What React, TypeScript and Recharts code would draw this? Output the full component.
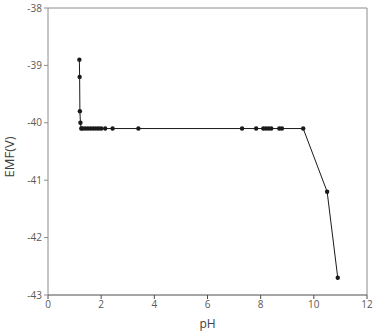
import { Line, LineChart, ReferenceLine, XAxis, YAxis } from "recharts";

// pH readings and the measured EMF at each one
const phValues = [
  1.18, 1.19, 1.2, 1.22, 1.25, 1.3, 1.4, 1.5, 1.6, 1.7, 1.8, 1.9, 2.0, 2.15, 2.43,
  3.4, 7.3, 7.83, 8.1, 8.2, 8.3, 8.4, 8.7, 8.8, 9.6, 10.5, 10.9,
];
const emfValues = [
  -38.9, -39.2, -39.8, -40.0, -40.1, -40.1, -40.1, -40.1, -40.1, -40.1, -40.1, -40.1,
  -40.1, -40.1, -40.1, -40.1, -40.1, -40.1, -40.1, -40.1, -40.1, -40.1, -40.1, -40.1,
  -40.1, -41.2, -42.7,
];
const xTicks = [0, 2, 4, 6, 8, 10, 12];
const yTicks = [-43, -42, -41, -40, -39, -38];

const rows = phValues.map((ph, i) => ({ ph, emf: emfValues[i] }));

const axisColor = "#8c8c8c";
const tickStyle = { fill: "#595959", fontSize: 10, fontFamily: "Open Sans" };

export default function App() {
  return (
    <div style={{ position: "absolute", left: 0, top: 0, background: "#fff" }}>
      <LineChart
        width={379}
        height={332}
        data={rows}
        margin={{ top: 8, right: 12, bottom: 4, left: 18 }}
      >
        <XAxis
          dataKey="ph"
          type="number"
          domain={[0, 12]}
          ticks={xTicks}
          stroke="#4d4d4d"
          tick={tickStyle}
          tickSize={4}
          height={33}
          label={{
            value: "pH",
            position: "insideBottom",
            offset: 0,
            fill: "#404040",
            fontSize: 12,
            fontFamily: "Open Sans",
          }}
        />
        <YAxis
          type="number"
          domain={[-43, -38]}
          ticks={yTicks}
          stroke={axisColor}
          tick={tickStyle}
          tickSize={4}
          width={30}
          label={{
            value: "EMF(V)",
            angle: -90,
            position: "insideLeft",
            offset: -9,
            dy: 26,
            fill: "#404040",
            fontSize: 13,
            fontFamily: "Open Sans",
          }}
        />
        <ReferenceLine y={-38} stroke={axisColor} />
        <ReferenceLine x={12} stroke={axisColor} />
        <Line
          dataKey="emf"
          type="linear"
          stroke="#1a1a1a"
          strokeWidth={1}
          dot={{ r: 2.2, fill: "#1a1a1a", stroke: "none" }}
          isAnimationActive={false}
        />
      </LineChart>
    </div>
  );
}
